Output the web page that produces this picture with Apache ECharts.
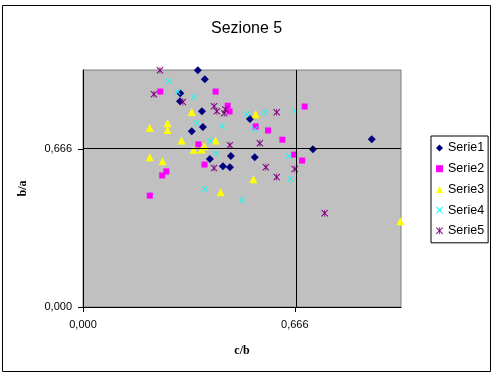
<!DOCTYPE html>
<html>
<head>
<meta charset="utf-8">
<script src="https://cdn.jsdelivr.net/npm/echarts@6/dist/echarts.min.js"></script>
<style>
  html, body { margin: 0; padding: 0; background: #fff; }
  #chart { width: 496px; height: 377px; }
</style>
</head>
<body>
<div id="chart"></div>
<script>
// punti: [c/b, b/a]
const serie1 = [
  [0.361, 0.999], [0.383, 0.961], [0.306, 0.902], [0.305, 0.868], [0.374, 0.826],
  [0.525, 0.793], [0.342, 0.742], [0.377, 0.759], [0.399, 0.625], [0.465, 0.637],
  [0.540, 0.632], [0.440, 0.594], [0.462, 0.590], [0.908, 0.708], [0.723, 0.666]
];
const serie2 = [
  [0.243, 0.909], [0.417, 0.909], [0.455, 0.849], [0.461, 0.825], [0.543, 0.762],
  [0.582, 0.745], [0.363, 0.686], [0.382, 0.601], [0.262, 0.572], [0.249, 0.555],
  [0.210, 0.470], [0.697, 0.846], [0.627, 0.706], [0.664, 0.643], [0.689, 0.618]
];
const serie3 = [
  [0.342, 0.823], [0.543, 0.813], [0.266, 0.775], [0.266, 0.747], [0.210, 0.756],
  [0.310, 0.703], [0.417, 0.703], [0.348, 0.663], [0.373, 0.665], [0.382, 0.678],
  [0.210, 0.632], [0.250, 0.615], [0.536, 0.539], [0.433, 0.484], [0.998, 0.362]
];
const serie4 = [
  [0.270, 0.953], [0.298, 0.907], [0.349, 0.886], [0.358, 0.776], [0.437, 0.763],
  [0.400, 0.701], [0.515, 0.814], [0.572, 0.822], [0.540, 0.750], [0.418, 0.649],
  [0.383, 0.498], [0.500, 0.451], [0.667, 0.826], [0.647, 0.637], [0.653, 0.540]
];
const serie5 = [
  [0.242, 0.999], [0.223, 0.898], [0.314, 0.865], [0.412, 0.847], [0.421, 0.826],
  [0.448, 0.833], [0.444, 0.818], [0.609, 0.822], [0.462, 0.683], [0.556, 0.691],
  [0.412, 0.586], [0.575, 0.590], [0.666, 0.582], [0.609, 0.548], [0.760, 0.396]
];
const seriesNames = ['Serie1', 'Serie2', 'Serie3', 'Serie4', 'Serie5'];
const seriesColors = ['#000080', '#FF00FF', '#FFFF00', '#00FFFF', '#800080'];
const tickValues = [0, 0.666];

const crossPath = 'path://M0,1L1,0L5,4L9,0L10,1L6,5L10,9L9,10L5,6L1,10L0,9L4,5Z';
const starPath = 'path://M0,1L1,0L4.5,3.5L4.5,0L5.5,0L5.5,3.5L9,0L10,1L6,5L10,9L9,10L5.5,6.5L5.5,10L4.5,10L4.5,6.5L1,10L0,9L4,5Z';
const symbols = ['diamond', 'rect', 'triangle', crossPath, starPath];
const sizes = [8, 6, 8, 6, 7];
const allData = [serie1, serie2, serie3, serie4, serie5];

const fmt = v => v.toFixed(3).replace('.', ',');

const chart = echarts.init(document.getElementById('chart'));

const series = seriesNames.map((name, i) => ({
  name: name,
  type: 'scatter',
  data: allData[i],
  symbol: symbols[i],
  symbolSize: sizes[i],
  itemStyle: { color: seriesColors[i], opacity: 1 },
  z: 3
}));

// linee della griglia a 0,666
series.push({
  type: 'scatter',
  data: [],
  silent: true,
  z: 2,
  markLine: {
    silent: true,
    symbol: 'none',
    label: { show: false },
    lineStyle: { color: '#000', width: 1, type: 'solid' },
    data: [{ xAxis: tickValues[1] }, { yAxis: tickValues[1] }]
  }
});

chart.setOption({
  animation: false,
  backgroundColor: '#fff',
  title: {
    text: 'Sezione 5',
    left: 206,
    top: 16,
    textStyle: { fontFamily: 'Liberation Sans', fontSize: 16, fontWeight: 'normal', color: '#000' }
  },
  legend: {
    orient: 'vertical',
    left: 431,
    top: 136,
    padding: [5, 4, 5, 5],
    itemWidth: 7,
    itemHeight: 7,
    itemGap: 6.7,
    borderColor: '#000',
    borderWidth: 1,
    backgroundColor: '#fff',
    data: seriesNames,
    textStyle: { fontFamily: 'Liberation Sans', fontSize: 12.5, color: '#000', lineHeight: 14 }
  },
  grid: {
    left: 83,
    top: 70,
    width: 318,
    height: 237,
    show: true,
    backgroundColor: '#C0C0C0',
    borderColor: '#808080',
    borderWidth: 1
  },
  xAxis: {
    type: 'value',
    min: 0,
    max: 1,
    interval: 0.666,
    name: 'c/b',
    nameLocation: 'middle',
    nameGap: 38,
    nameTextStyle: { fontFamily: 'Liberation Serif', fontWeight: 'bold', fontSize: 12, color: '#000' },
    axisLine: { lineStyle: { color: '#000' } },
    axisTick: { show: true, length: 5, lineStyle: { color: '#000' }, customValues: tickValues },
    axisLabel: {
      customValues: tickValues,
      formatter: fmt,
      margin: 12,
      fontFamily: 'Liberation Sans',
      fontSize: 11,
      color: '#000'
    },
    splitLine: { show: false }
  },
  yAxis: {
    type: 'value',
    min: 0,
    max: 1,
    interval: 0.666,
    name: 'b/a',
    nameLocation: 'middle',
    nameGap: 54,
    nameTextStyle: { fontFamily: 'Liberation Serif', fontWeight: 'bold', fontSize: 12, color: '#000' },
    axisLine: { lineStyle: { color: '#000' } },
    axisTick: { show: true, length: 5, lineStyle: { color: '#000' }, customValues: tickValues },
    axisLabel: {
      customValues: tickValues,
      formatter: fmt,
      margin: 11,
      fontFamily: 'Liberation Sans',
      fontSize: 11,
      color: '#000'
    },
    splitLine: { show: false }
  },
  graphic: [{
    type: 'rect',
    shape: { x: 2.5, y: 5.5, width: 488, height: 366 },
    style: { fill: null, stroke: '#000', lineWidth: 1 },
    silent: true
  }],
  series: series
});
</script>
</body>
</html>
